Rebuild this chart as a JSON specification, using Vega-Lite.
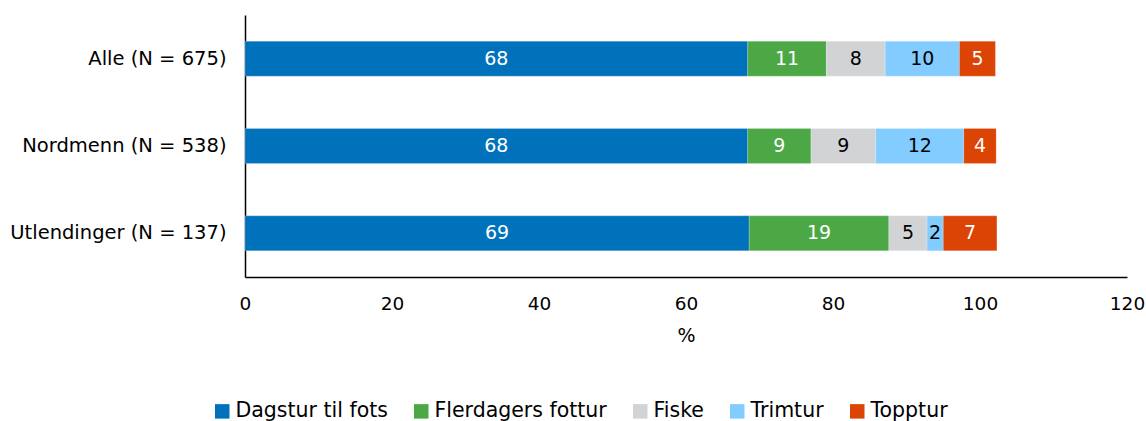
{
  "$schema": "https://vega.github.io/schema/vega-lite/v6.json",
  "width": 882,
  "height": 262,
  "autosize": {"type": "none"},
  "padding": {"left": 245, "top": 15, "right": 19, "bottom": 144},
  "background": "white",
  "config": {
    "font": "DejaVu Sans",
    "view": {"stroke": null}
  },
  "data": {
    "values": [
      {"gruppe": "Alle (N = 675)", "aktivitet": "Dagstur til fots", "k": 1, "pst": 68.4},
      {"gruppe": "Alle (N = 675)", "aktivitet": "Flerdagers fottur", "k": 2, "pst": 10.7},
      {"gruppe": "Alle (N = 675)", "aktivitet": "Fiske", "k": 3, "pst": 8.0},
      {"gruppe": "Alle (N = 675)", "aktivitet": "Trimtur", "k": 4, "pst": 10.1},
      {"gruppe": "Alle (N = 675)", "aktivitet": "Topptur", "k": 5, "pst": 4.9},
      {"gruppe": "Nordmenn (N = 538)", "aktivitet": "Dagstur til fots", "k": 1, "pst": 68.4},
      {"gruppe": "Nordmenn (N = 538)", "aktivitet": "Flerdagers fottur", "k": 2, "pst": 8.6},
      {"gruppe": "Nordmenn (N = 538)", "aktivitet": "Fiske", "k": 3, "pst": 8.8},
      {"gruppe": "Nordmenn (N = 538)", "aktivitet": "Trimtur", "k": 4, "pst": 12.0},
      {"gruppe": "Nordmenn (N = 538)", "aktivitet": "Topptur", "k": 5, "pst": 4.4},
      {"gruppe": "Utlendinger (N = 137)", "aktivitet": "Dagstur til fots", "k": 1, "pst": 68.6},
      {"gruppe": "Utlendinger (N = 137)", "aktivitet": "Flerdagers fottur", "k": 2, "pst": 19.0},
      {"gruppe": "Utlendinger (N = 137)", "aktivitet": "Fiske", "k": 3, "pst": 5.2},
      {"gruppe": "Utlendinger (N = 137)", "aktivitet": "Trimtur", "k": 4, "pst": 2.2},
      {"gruppe": "Utlendinger (N = 137)", "aktivitet": "Topptur", "k": 5, "pst": 7.3}
    ]
  },
  "transform": [
    {"stack": "pst", "groupby": ["gruppe"], "sort": [{"field": "k", "order": "ascending"}], "as": ["x0", "x1"]},
    {"calculate": "(datum.x0 + datum.x1) / 2", "as": "xm"}
  ],
  "encoding": {
    "y": {
      "field": "gruppe",
      "type": "nominal",
      "sort": null,
      "title": null,
      "scale": {"paddingInner": 0.6, "paddingOuter": 0.3},
      "axis": {
        "domainColor": "#000000",
        "domainWidth": 1.5,
        "ticks": false,
        "labelFontSize": 19.5,
        "labelColor": "#000000",
        "labelPadding": 19,
        "labelLimit": 300
      }
    }
  },
  "layer": [
    {
      "mark": {"type": "bar", "stroke": "white", "strokeWidth": 0.5, "strokeOpacity": 0.4},
      "encoding": {
        "x": {
          "field": "x0",
          "type": "quantitative",
          "title": "%",
          "scale": {"domain": [0, 120]},
          "axis": {
            "values": [0, 20, 40, 60, 80, 100, 120],
            "grid": false,
            "ticks": false,
            "labelFlush": false,
            "domainColor": "#000000",
            "domainWidth": 1.5,
            "labelFontSize": 18.5,
            "labelColor": "#000000",
            "labelPadding": 17,
            "titleFontSize": 19,
            "titleFontWeight": "normal",
            "titleColor": "#000000",
            "titlePadding": 14
          }
        },
        "x2": {"field": "x1"},
        "color": {
          "field": "aktivitet",
          "type": "nominal",
          "sort": ["Dagstur til fots", "Flerdagers fottur", "Fiske", "Trimtur", "Topptur"],
          "scale": {
            "domain": ["Dagstur til fots", "Flerdagers fottur", "Fiske", "Trimtur", "Topptur"],
            "range": ["#0072BC", "#4BA845", "#D2D3D5", "#83CCFF", "#DC4405"]
          },
          "legend": {
            "title": null,
            "orient": "none",
            "direction": "horizontal",
            "legendX": -33,
            "legendY": 386,
            "symbolType": "square",
            "symbolSize": 210,
            "symbolStrokeWidth": 0,
            "symbolOpacity": 1,
            "labelFontSize": 20.5,
            "labelColor": "#000000",
            "labelOffset": 3,
            "columnPadding": 23,
            "labelLimit": 300
          }
        }
      }
    },
    {
      "mark": {"type": "text", "fontSize": 19, "align": "center", "baseline": "middle"},
      "encoding": {
        "x": {"field": "xm", "type": "quantitative"},
        "text": {"field": "pst", "type": "quantitative", "format": ".0f"},
        "color": {
          "condition": {"test": "datum.aktivitet === 'Fiske' || datum.aktivitet === 'Trimtur'", "value": "#000000"},
          "value": "#ffffff"
        }
      }
    }
  ]
}
